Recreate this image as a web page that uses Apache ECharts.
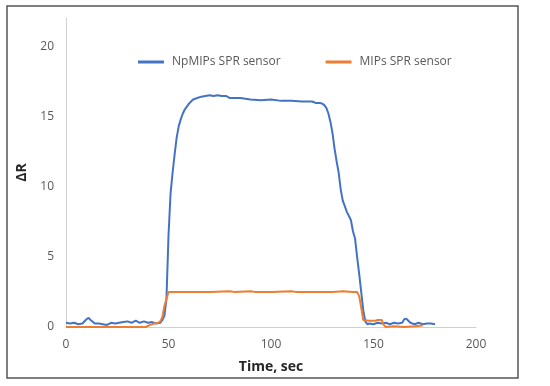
<!DOCTYPE html>
<html><head><meta charset="utf-8">
<script src="https://cdn.jsdelivr.net/npm/echarts@6/dist/echarts.min.js"></script>
<style>html,body{margin:0;padding:0;background:#fff}#c{width:550px;height:386px}</style>
</head><body><div id="c"></div>
<script>
const blueName = 'NpMIPs SPR sensor';
const orangeName = 'MIPs SPR sensor';
const blueTime = [0,2,4,6,8,10,11,12,14,16,18,20,22,24,26,28,30,32,34,36,38,40,42,44,46,47,48,49,50,51,52,53,54,55,56,57,58,60,62,64,66,68,70,72,74,76,78,80,85,90,95,100,105,110,115,120,122,124,125,126,127,128,129,130,131,132,133,134,135,136,137,138,139,140,141,142,143,144,145,146,147,148,150,152,154,156,158,160,162,164,165,166,167,168,170,172,174,176,178,180];
const blueValue = [0.3,0.25,0.3,0.2,0.25,0.55,0.65,0.5,0.25,0.25,0.2,0.15,0.3,0.25,0.3,0.35,0.4,0.3,0.45,0.3,0.4,0.3,0.35,0.25,0.3,0.5,0.8,2.0,6.5,9.5,11.0,12.3,13.5,14.3,14.8,15.2,15.5,15.9,16.2,16.3,16.4,16.45,16.5,16.45,16.5,16.45,16.45,16.3,16.3,16.2,16.15,16.2,16.1,16.1,16.05,16.05,15.95,15.95,15.9,15.8,15.6,15.2,14.6,13.8,12.7,11.8,11.0,9.8,9.0,8.6,8.2,7.9,7.6,6.8,6.3,5.0,3.8,2.5,1.2,0.4,0.2,0.25,0.2,0.3,0.25,0.3,0.2,0.3,0.25,0.3,0.55,0.6,0.45,0.3,0.2,0.3,0.2,0.25,0.25,0.2];
const orangeTime = [0,5,10,15,20,25,30,35,39,41,43,45,46,47,48,49,50,60,70,80,82,90,92,100,110,112,120,130,135,140,142,143,144,145,148,151,152,154,155,156,160,165,170,174];
const orangeValue = [0,0,0,0,0,0,0,0,0,0.15,0.25,0.3,0.4,0.7,1.5,2.0,2.5,2.5,2.5,2.55,2.5,2.55,2.5,2.5,2.55,2.5,2.5,2.5,2.55,2.5,2.5,2.2,1.4,0.5,0.45,0.45,0.5,0.5,0.15,0,0.05,0,0.05,0.1];
const xTicks = [0,50,100,150,200];
const yTicks = [0,5,10,15,20];

const zip = (a,b) => a.map((v,i)=>[v,b[i]]);
const font = 'Open Sans, Liberation Sans, sans-serif';
const chart = echarts.init(document.getElementById('c'), null, {renderer:'canvas'});
chart.setOption({
  animation:false,
  backgroundColor:'#fff',
  graphic:[{type:'rect', shape:{x:7,y:6,width:511,height:372}, style:{fill:'none', stroke:'#555', lineWidth:1.5}, silent:true}],
  legend:{
    top:51, left:133, itemGap:45, itemWidth:26, itemHeight:3,
    icon:'rect',
    textStyle:{color:'#595959', fontSize:12, fontFamily:font, padding:[0,0,0,3]},
    data:[blueName, orangeName]
  },
  grid:{left:66, right:74, top:18, bottom:59},
  xAxis:{
    type:'value', min:xTicks[0], max:xTicks[xTicks.length-1], interval:50,
    name:'Time, sec', nameLocation:'middle', nameGap:33,
    nameTextStyle:{color:'#262626', fontSize:14, fontWeight:'bold', fontFamily:font},
    axisLine:{show:true, lineStyle:{color:'#d0d0d0', width:1}},
    axisTick:{show:false},
    axisLabel:{color:'#595959', fontSize:12, fontFamily:font, margin:12},
    splitLine:{show:false}
  },
  yAxis:{
    type:'value', min:0, max:22, interval:5,
    name:'ΔR', nameLocation:'middle', nameGap:16, nameRotate:90,
    nameTextStyle:{color:'#262626', fontSize:14, fontWeight:'bold', fontFamily:font},
    axisLine:{show:true, lineStyle:{color:'#d0d0d0', width:1}},
    axisTick:{show:false},
    axisLabel:{color:'#595959', fontSize:12, fontFamily:font, margin:12, showMaxLabel:false,
      formatter:v=> yTicks.includes(v)? String(v):''},
    splitLine:{show:false}
  },
  series:[
    {name:blueName, type:'line', data:zip(blueTime, blueValue), showSymbol:false, symbol:'none',
     lineStyle:{color:'#4472C4', width:2}, itemStyle:{color:'#4472C4'}},
    {name:orangeName, type:'line', data:zip(orangeTime, orangeValue), showSymbol:false, symbol:'none',
     lineStyle:{color:'#ED7D31', width:2}, itemStyle:{color:'#ED7D31'}}
  ]
});
</script></body></html>
